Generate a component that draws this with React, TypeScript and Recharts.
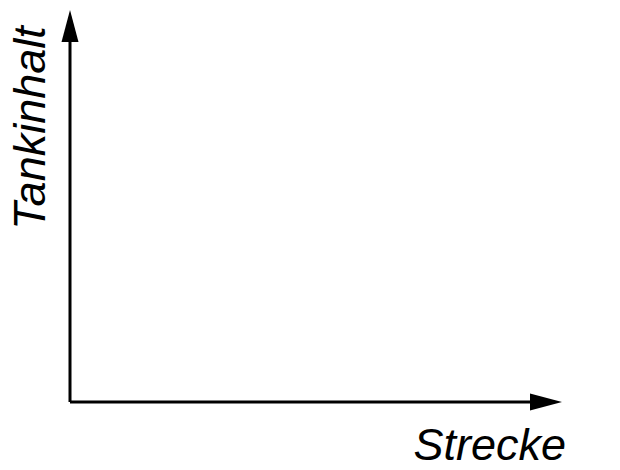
import React from "react";
import { ComposedChart, XAxis, YAxis, Line } from "recharts";

// Sketch axes only: no measured values, just the value ranges and titles
const xDomain = [0, 10];
const yDomain = [0, 10];
const points: { strecke: number; tank: number }[] = [];
const xTitle = "Strecke";
const yTitle = "Tankinhalt";

const FONT = '"Liberation Sans", Arial, Helvetica, sans-serif';

const axisStyle = {
  stroke: "#000",
  strokeWidth: 3,
};

function XTitle(props: any) {
  const { viewBox } = props;
  return (
    <text
      x={viewBox.x + viewBox.width + 12}
      y={viewBox.y + 58}
      textAnchor="end"
      fontFamily={FONT}
      fontStyle="italic"
      fontSize={45}
      fill="#000"
    >
      {xTitle}
    </text>
  );
}

function YTitle(props: any) {
  const { viewBox } = props;
  const x = viewBox.x + 45;
  const y = viewBox.y + 110;
  return (
    <text
      x={x}
      y={y}
      textAnchor="middle"
      transform={`rotate(-90, ${x}, ${y})`}
      fontFamily={FONT}
      fontStyle="italic"
      fontSize={45}
      fill="#000"
    >
      {yTitle}
    </text>
  );
}

export default function App() {
  return (
    <div style={{ position: "absolute", left: 0, top: 0, width: 620, height: 470, background: "#fff" }}>
      {/* arrow heads shared by both axis lines */}
      <svg width={0} height={0} style={{ position: "absolute" }}>
        <defs>
          <marker
            id="axisArrow"
            markerUnits="userSpaceOnUse"
            markerWidth={34}
            markerHeight={18}
            viewBox="0 -9 34 18"
            refX={24}
            refY={0}
            orient="auto-start-reverse"
          >
            <path d="M0,-8.5 L32,0 L0,8.5 Z" fill="#000" />
          </marker>
        </defs>
      </svg>
      <ComposedChart
        width={620}
        height={470}
        data={points}
        margin={{ top: 18, right: 66, bottom: 0, left: 0 }}
      >
        <XAxis
          type="number"
          dataKey="strecke"
          domain={xDomain}
          height={68}
          tick={false}
          tickLine={false}
          axisLine={{ ...axisStyle, markerEnd: "url(#axisArrow)" }}
          label={{ value: xTitle, content: XTitle }}
        />
        <YAxis
          type="number"
          dataKey="tank"
          domain={yDomain}
          width={70}
          tick={false}
          tickLine={false}
          axisLine={{ ...axisStyle, markerStart: "url(#axisArrow)" }}
          label={{ value: yTitle, content: YTitle }}
        />
        <Line dataKey="tank" stroke="#000" dot={false} isAnimationActive={false} />
      </ComposedChart>
    </div>
  );
}
